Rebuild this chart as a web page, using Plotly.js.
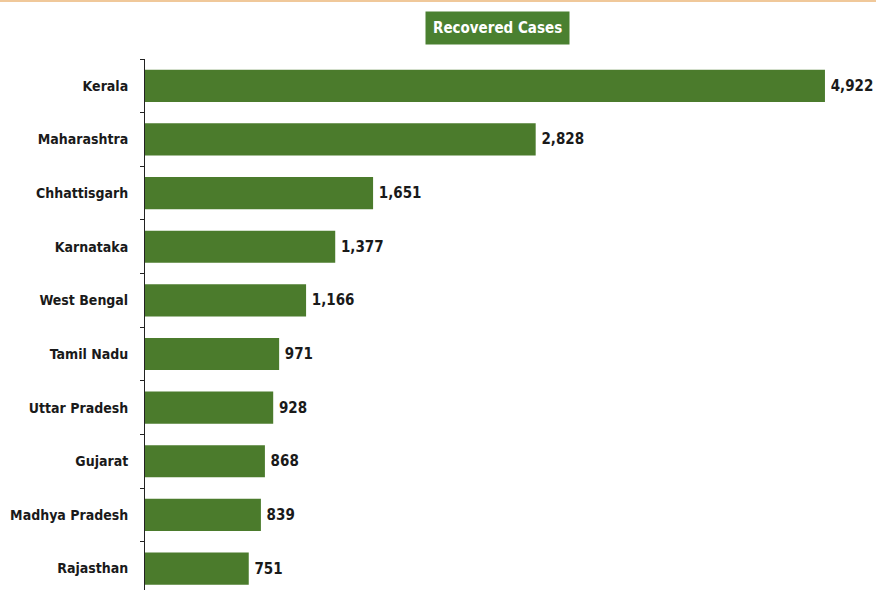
<!DOCTYPE html>
<html>
<head>
<meta charset="utf-8">
<script src="https://cdn.plot.ly/plotly-3.0.1.min.js"></script>
<style>
html,body{margin:0;padding:0;background:#fff;}
#chart{width:876px;height:590px;}
</style>
</head>
<body>
<div id="chart"></div>
<script>
const states = ["Kerala","Maharashtra","Chhattisgarh","Karnataka","West Bengal","Tamil Nadu","Uttar Pradesh","Gujarat","Madhya Pradesh","Rajasthan"];
const recovered = [4922,2828,1651,1377,1166,971,928,868,839,751];
const chartTitle = "Recovered Cases";

const FONT = "'DejaVu Sans Condensed','Liberation Sans Narrow','Open Sans',sans-serif";

const trace = {
  type: "bar",
  orientation: "h",
  y: states,
  x: recovered,
  marker: {color: "#4b7b2c"},
  width: 0.6,
  texttemplate: "\u2009%{x:,}",
  textposition: "outside",
  cliponaxis: false,
  textfont: {family: FONT, size: 15, color: "#1a1a1a", weight: "bold"},
  hoverinfo: "skip"
};

const layout = {
  width: 876,
  height: 590,
  margin: {l: 145, r: 6, t: 59, b: 0},
  paper_bgcolor: "#ffffff",
  plot_bgcolor: "#ffffff",
  showlegend: false,
  xaxis: {
    range: [0, 5248],
    visible: false,
    showgrid: false,
    zeroline: false
  },
  yaxis: {
    type: "category",
    categoryorder: "array",
    categoryarray: states,
    range: [9.4, -0.5],
    showline: true,
    linecolor: "#222",
    linewidth: 1,
    ticks: "outside",
    tickson: "boundaries",
    ticklen: 4,
    tickcolor: "#222",
    ticklabelstandoff: 13,
    tickfont: {family: FONT, size: 14, color: "#1a1a1a", weight: "bold"},
    showgrid: false,
    zeroline: false
  },
  annotations: [{
    text: chartTitle,
    xref: "paper", yref: "paper",
    x: (497 - 145) / 725, y: 1,
    yshift: 31,
    showarrow: false,
    font: {family: FONT, size: 15, color: "#ffffff", weight: "bold"},
    bgcolor: "#4a8030",
    borderpad: 7,
    xanchor: "center", yanchor: "middle"
  }],
  shapes: [{
    type: "line",
    xref: "paper", yref: "paper",
    x0: -0.2, x1: 1.01,
    y0: 1 + 58.5/531, y1: 1 + 58.5/531,
    line: {color: "#f0c89a", width: 3}
  }]
};

Plotly.newPlot("chart", [trace], layout, {displayModeBar: false, staticPlot: true});
</script>
</body>
</html>
